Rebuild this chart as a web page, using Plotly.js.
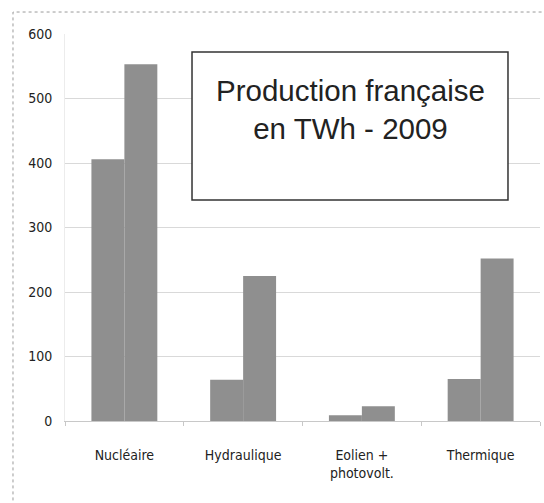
<!DOCTYPE html>
<html>
<head>
<meta charset="utf-8">
<script src="https://cdn.plot.ly/plotly-3.0.1.min.js"></script>
<style>html,body{margin:0;padding:0;background:#fff;}#chart{width:544px;height:503px;}</style>
</head>
<body>
<div id="chart"></div>
<script>
const categories = ["Nucléaire", "Hydraulique", "Eolien +<br>photovolt.", "Thermique"];
const seriesA = [406, 64, 9, 65];
const seriesB = [553, 225, 23, 252];
const yTicks = [0, 100, 200, 300, 400, 500, 600];
const titleText = "Production française<br>en TWh - 2009";

const barColor = "#8f8f8f";
const tickFont = {family: "Liberation Sans Narrow, DejaVu Sans Condensed, Arial Narrow, sans-serif", size: 14, color: "#222"};

const traces = [
  {type: "bar", x: categories, y: seriesA, marker: {color: barColor}, showlegend: false, hoverinfo: "none"},
  {type: "bar", x: categories, y: seriesB, marker: {color: barColor}, showlegend: false, hoverinfo: "none"}
];

const layout = {
  width: 544, height: 503,
  margin: {l: 65, r: 4, t: 34, b: 82},
  paper_bgcolor: "#ffffff",
  plot_bgcolor: "#ffffff",
  barmode: "group",
  bargap: 0.445,
  bargroupgap: 0,
  xaxis: {
    type: "category",
    tickson: "boundaries",
    ticks: "outside", ticklen: 4, tickcolor: "#c8c8c8",
    showline: true, linecolor: "#c8c8c8", linewidth: 1,
    showgrid: false,
    tickfont: tickFont,
    ticklabelstandoff: 21
  },
  yaxis: {
    range: [0, 600],
    tickvals: yTicks,
    ticktext: yTicks.map(String),
    showgrid: true, gridcolor: "#d9d9d9", gridwidth: 1,
    zeroline: false,
    showline: true, linecolor: "#ececec",
    ticks: "", tickfont: tickFont,
    ticklabelstandoff: 9
  },
  shapes: [
    {type: "rect", xref: "paper", yref: "paper",
     x0: -0.1095, x1: 1.05, y0: -0.3, y1: 1.0568,
     line: {color: "#9a9a9a", width: 1, dash: "dot"}, fillcolor: "rgba(0,0,0,0)", layer: "below"},
    {type: "rect", xref: "paper", yref: "paper",
     x0: 0.2674, x1: 0.9326, y0: 0.571, y1: 0.9535,
     line: {color: "#333333", width: 1.5}, fillcolor: "#ffffff", layer: "above"}
  ],
  annotations: [
    {xref: "paper", yref: "paper", x: 0.6, y: 0.805, xanchor: "center", yanchor: "middle",
     text: titleText, showarrow: false, align: "center",
     font: {family: "Liberation Sans, Arial, sans-serif", size: 29.5, color: "#222"}}
  ]
};

Plotly.newPlot("chart", traces, layout, {displayModeBar: false, staticPlot: true});
</script>
</body>
</html>
